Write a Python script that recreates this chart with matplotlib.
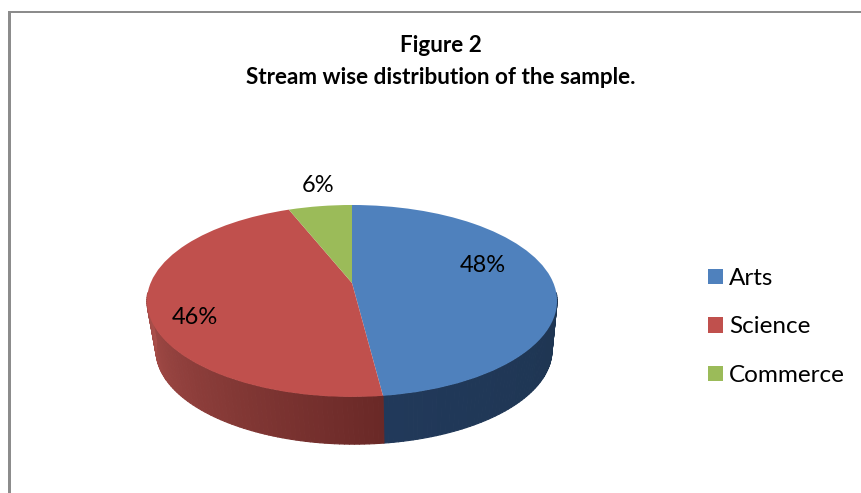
import numpy as np
import matplotlib
matplotlib.use("Agg")
import matplotlib.pyplot as plt
from matplotlib.patches import Rectangle
from matplotlib.transforms import Transform

categories = ["Arts", "Science", "Commerce"]
values = [48, 46, 6]
title_lines = ["Figure 2", "Stream wise distribution of the sample."]
colors = ["#4F81BD", "#C0504D", "#9BBB59"]

plt.rcParams["font.family"] = ["Lato", "DejaVu Sans"]

fig = plt.figure(figsize=(8.61, 4.93), dpi=100, facecolor="white")
ax = fig.add_axes([0, 0, 1, 1])


class Perspective(Transform):
    """Tilted disc: unit circle coordinates to pixel coordinates."""
    input_dims = output_dims = 2
    is_affine = False
    has_inverse = False

    def __init__(self, cx, cy, bx, by, k):
        super().__init__()
        self.p = (cx, cy, bx, by, k)

    def transform_non_affine(self, xy):
        cx, cy, bx, by, k = self.p
        xy = np.asarray(xy, dtype=float)
        w = 1 + k * xy[:, 1]
        return np.column_stack([cx + bx * xy[:, 0] / w, cy - by * xy[:, 1] / w])


K = 0.187
top_rim = Perspective(352, 283, 201.4, 92.6, K)
bottom_rim = Perspective(354, 332.6, 194.5, 90.7, K)

wedges, _ = ax.pie(values, colors=colors, startangle=90, counterclock=False,
                   wedgeprops={"linewidth": 0})
ax.set_aspect("auto")
ax.set_xlim(0, 861)
ax.set_ylim(493, 0)
ax.set_frame_on(False)
ax.set_xticks([])
ax.set_yticks([])

for w in wedges:
    w.set_transform(top_rim + ax.transData)
    w.set_clip_on(False)
    w.set_zorder(5)

# side wall, from the slice angles
boundary = 90 - values[0] / sum(values) * 360   # Arts / Science edge (degrees ccw)
wall_styles = [
    (-6, boundary, "#1E3551", "#21395A"),
    (boundary, -174, "#6A2927", "#A84E4A"),
]
for a0, a1, c0, c1 in wall_styles:
    steps = int(abs(a1 - a0) / 1.2) + 1
    edges = np.radians(np.linspace(a0, a1, steps + 1))
    rgb0, rgb1 = np.array(matplotlib.colors.to_rgb(c0)), np.array(matplotlib.colors.to_rgb(c1))
    for i in range(steps):
        t = i / max(steps - 1, 1)
        col = rgb0 + (rgb1 - rgb0) * t
        uv = np.column_stack([np.cos(edges[i:i + 2]), np.sin(edges[i:i + 2])])
        pts_t = top_rim.transform(uv)
        pts_b = bottom_rim.transform(uv)[::-1]
        ax.fill(*np.vstack([pts_t, pts_b]).T, color=col, lw=0.8, zorder=2, clip_on=False,
                joinstyle="round")

# chart frame
ax.add_patch(Rectangle((8, 11), 853, 2, color="#8C8C8C", lw=0, zorder=1))
ax.add_patch(Rectangle((8, 11), 3, 482, color="#8C8C8C", lw=0, zorder=1))

ax.text(441, 46, title_lines[0], ha="center", va="center", fontsize=16.2, fontweight="bold", color="black")
ax.text(441, 77, title_lines[1], ha="center", va="center", fontsize=16.2, fontweight="bold", color="black")

label_pos = [(483, 266), (195, 318), (318, 186)]
for v, (x, y) in zip(values, label_pos):
    ax.text(x, y, f"{v}%", ha="center", va="center", fontsize=17, color="black", zorder=6)

ax.legend(wedges, categories, frameon=False, loc="upper left",
          bbox_to_anchor=(708 / 861, 1 - 268 / 493), bbox_transform=fig.transFigure,
          fontsize=17.5, handlelength=0.62, handleheight=0.62, handletextpad=0.25,
          labelspacing=1.13, borderpad=0, borderaxespad=0)

fig.savefig("out.png", dpi=100)
